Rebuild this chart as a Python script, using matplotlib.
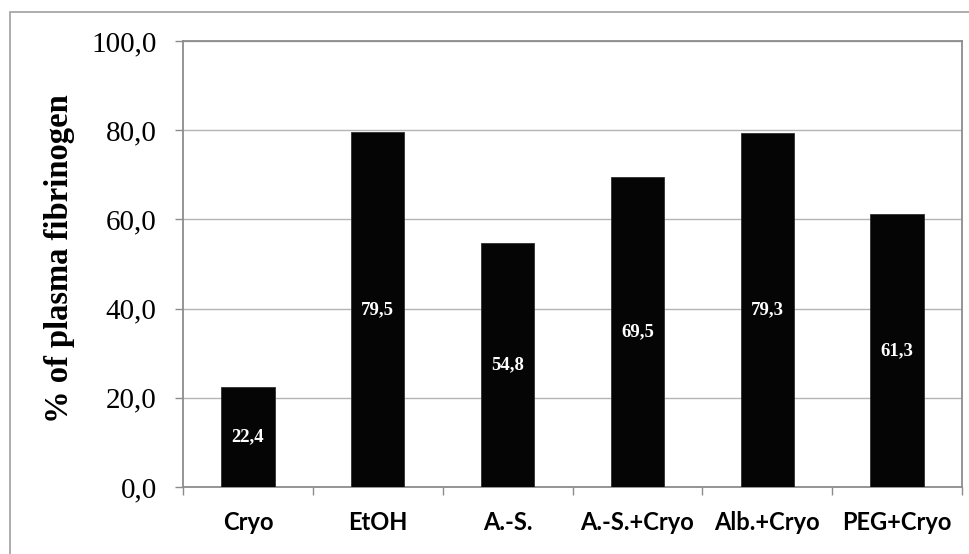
import matplotlib
matplotlib.use("Agg")
import matplotlib.pyplot as plt
from matplotlib.patches import Rectangle
import numpy as np

# Fibrinogen recovery by fractionation method
methods = ["Cryo", "EtOH", "A.-S.", "A.-S.+Cryo", "Alb.+Cryo", "PEG+Cryo"]
recovery = [22.4, 79.5, 54.8, 69.5, 79.3, 61.3]
y_ticks = [0, 20, 40, 60, 80, 100]

SERIF = ["Liberation Serif", "DejaVu Serif"]
SANS = ["Lato", "DejaVu Sans"]
FRAME = "#8c8c8c"
GRID = "#b4b4b4"


def fmt(v):
    # decimal comma, one digit
    return f"{v:.1f}".replace(".", ",")


fig = plt.figure(figsize=(9.69, 5.54), dpi=100)
ax = fig.add_axes([0.1889, 0.1209, 0.8039, 0.8051])

# outer chart border (runs off the right and bottom edges)
fig.patches.append(Rectangle((10 / 969, -0.05), 1.2, 1 - 12 / 554 + 0.05,
                             transform=fig.transFigure, fill=False,
                             edgecolor="#a0a0a0", linewidth=1.2, zorder=0))

x = np.arange(len(methods))
bars = ax.bar(x, recovery, width=0.41, color="#050505",
              edgecolor="#303030", linewidth=0.6, zorder=3)

for xi, v in zip(x, recovery):
    ax.text(xi, v / 2, fmt(v), ha="center", va="center", color="white",
            fontsize=13.5, fontweight="bold", family=SERIF, zorder=4)

ax.set_xlim(-0.5, len(methods) - 0.5)
ax.set_ylim(0, 100)
ax.set_yticks(y_ticks)
ax.set_yticklabels([fmt(t) for t in y_ticks], family=SERIF, fontsize=21)
ax.yaxis.grid(True, color=GRID, linewidth=1.0, zorder=0)
ax.set_axisbelow(True)

# category labels centred, tick marks on the boundaries
ax.set_xticks(x)
ax.set_xticklabels(methods, family=SANS, fontsize=17, fontweight="bold")
ax.tick_params(axis="x", which="major", length=0, pad=17)
ax.set_xticks(np.arange(-0.5, len(methods)), minor=True)
ax.tick_params(axis="x", which="minor", length=6, width=1.0, color=FRAME,
               direction="out")
ax.tick_params(axis="y", length=6, width=1.0, color=FRAME, pad=13)

for side in ["left", "bottom", "top", "right"]:
    ax.spines[side].set_color(FRAME)
    ax.spines[side].set_linewidth(1.3)

ax.set_ylabel("% of plasma fibrinogen", family=SERIF, fontsize=23.5,
              fontweight="bold")
ax.yaxis.set_label_coords(-0.139, 0.513)

fig.savefig("out.png", dpi=100)
